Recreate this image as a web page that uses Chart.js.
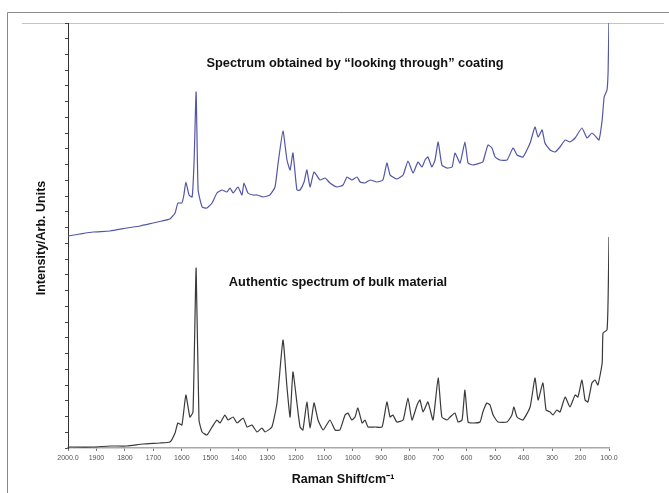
<!DOCTYPE html>
<html>
<head>
<meta charset="utf-8">
<script src="https://cdn.jsdelivr.net/npm/chart.js@4/dist/chart.umd.min.js"></script>
<style>
html,body{margin:0;padding:0;background:#fff;}
#c{display:block;}
</style>
</head>
<body>
<canvas id="c" width="669" height="493"></canvas>
<script>
// Raman shift (cm-1) and intensity (arb. units)
const coatedShift = [2000,1958,1912,1852,1793,1747,1701,1670,1642,1624,1614,1600,1593,1586,1575,1564,1557,1550,1543,1529,1512,1494,1477,1459,1442,1431,1420,1403,1389,1382,1368,1350,1336,1315,1291,1273,1262,1245,1231,1220,1210,1196,1185,1171,1161,1150,1136,1115,1097,1080,1055,1034,1020,1003,985,974,957,939,915,894,880,869,859,845,823,806,788,771,757,746,736,722,711,700,687,669,651,641,623,606,595,578,553,543,525,511,500,483,458,437,423,402,377,360,349,335,325,307,290,272,254,237,219,195,177,160,142,135,124,117,107,103,100];
const coatedIntensity = [212,214,216,217,220,222,225,227,229,235,245,245,253,266,253,251,288,356,258,241,240,245,255,258,256,260,255,261,253,265,255,253,253,251,253,261,285,317,288,278,295,258,258,266,278,261,276,268,270,265,261,263,271,268,271,266,265,268,266,268,285,273,271,269,273,287,275,286,281,288,291,281,288,306,283,280,281,295,285,306,285,283,285,286,303,300,291,288,288,300,293,291,305,321,311,318,305,298,296,301,308,306,310,320,310,315,310,308,328,351,358,378,432];

const bulkShift = [2000,1912,1852,1793,1737,1677,1642,1624,1614,1600,1586,1572,1561,1550,1540,1529,1512,1494,1477,1466,1449,1438,1420,1406,1385,1371,1354,1336,1319,1308,1284,1266,1245,1231,1220,1210,1196,1185,1175,1161,1150,1136,1122,1104,1080,1062,1045,1027,1017,1003,992,982,967,957,946,922,897,880,869,859,845,823,806,792,774,764,753,736,718,700,687,669,658,641,630,616,606,595,578,553,543,529,518,507,490,458,441,434,423,402,377,360,349,332,321,307,297,283,272,254,237,219,209,195,184,174,160,149,139,124,121,107,103,100];
const bulkIntensity = [1,1,2,2,4,5,6,15,25,23,53,31,36,180,28,16,13,21,28,25,33,28,31,25,30,21,23,16,20,16,21,45,108,61,31,76,45,21,18,46,20,45,28,18,28,18,18,33,35,28,31,40,25,28,21,21,21,46,31,33,26,28,50,28,43,48,36,46,28,70,31,28,31,35,26,28,58,26,25,26,36,45,43,33,26,26,33,41,31,28,41,70,48,65,38,36,33,38,36,51,41,53,51,68,48,46,65,68,63,85,115,118,151,211];

const tickValues = [2000,1900,1800,1700,1600,1500,1400,1300,1200,1100,1000,900,800,700,600,500,400,300,200,100];
const tickLabels = ["2000.0","1900","1800","1700","1600","1500","1400","1300","1200","1100","1000","900","800","700","600","500","400","300","200","100.0"];

const topLabel = "Spectrum obtained by \u201Clooking through\u201D coating";
const bottomLabel = "Authentic spectrum of bulk material";
const yTitle = "Intensity/Arb. Units";
const xTitle = "Raman Shift/cm\u207B\u00B9";

const toXY = (xs, ys) => xs.map((x, i) => ({x: x, y: ys[i]}));

const decor = {
  id: 'decor',
  beforeDraw(chart) {
    const ctx = chart.ctx;
    ctx.save();
    ctx.fillStyle = '#fff';
    ctx.fillRect(0, 0, chart.width, chart.height);
    ctx.strokeStyle = '#8a8a8a';
    ctx.lineWidth = 1;
    ctx.beginPath();
    ctx.moveTo(7.5, 500);
    ctx.lineTo(7.5, 12.5);
    ctx.lineTo(669, 12.5);
    ctx.stroke();
    ctx.strokeStyle = '#c4c4c4';
    ctx.beginPath();
    ctx.moveTo(22, 23.5);
    ctx.lineTo(664, 23.5);
    ctx.stroke();
    ctx.restore();
  },
  afterDraw(chart) {
    const ctx = chart.ctx;
    ctx.save();
    ctx.fillStyle = '#111';
    ctx.textAlign = 'center';
    ctx.textBaseline = 'middle';
    ctx.font = 'bold 12.8px "Liberation Sans", Arial, sans-serif';
    ctx.fillText(topLabel, 355, 63);
    ctx.fillText(bottomLabel, 338, 282);
    ctx.font = 'bold 12.5px "Liberation Sans", Arial, sans-serif';
    ctx.fillText(xTitle, 343, 480);
    ctx.translate(42, 238);
    ctx.rotate(-Math.PI / 2);
    ctx.fillText(yTitle, 0, 0);
    ctx.restore();
  }
};

new Chart(document.getElementById('c'), {
  type: 'line',
  data: {
    datasets: [
      {
        label: 'coated',
        data: toXY(coatedShift, coatedIntensity),
        borderColor: '#5256a6',
        borderWidth: 1.2,
        pointRadius: 0,
        tension: 0.15,
        fill: false
      },
      {
        label: 'bulk',
        data: toXY(bulkShift, bulkIntensity),
        borderColor: '#3a3a3a',
        borderWidth: 1.2,
        pointRadius: 0,
        tension: 0.15,
        fill: false
      }
    ]
  },
  options: {
    responsive: false,
    animation: false,
    events: [],
    layout: {padding: {left: 0, right: 60, top: 23, bottom: 0}},
    plugins: {legend: {display: false}, tooltip: {enabled: false}},
    scales: {
      x: {
        type: 'linear',
        reverse: true,
        min: 100,
        max: 2000,
        afterBuildTicks: (s) => { s.ticks = tickValues.map(v => ({value: v})); },
        afterFit: (s) => { s.height = 45; },
        border: {display: true, color: '#a8a8a8', width: 1.5},
        grid: {drawOnChartArea: false, drawTicks: true, tickLength: 3, color: '#777'},
        ticks: {
          autoSkip: false,
          maxRotation: 0,
          padding: 3,
          color: '#555',
          font: {family: '"Liberation Sans", Arial, sans-serif', size: 7},
          callback: (v) => { const i = tickValues.indexOf(v); return i >= 0 ? tickLabels[i] : ''; }
        }
      },
      y: {
        type: 'linear',
        min: 0,
        max: 425,
        afterBuildTicks: (s) => { const t = []; for (let i = 0; i <= 27; i++) t.push({value: i * 425 / 27}); s.ticks = t; },
        afterFit: (s) => { s.width = 68; },
        border: {display: true, color: '#333', width: 1},
        grid: {drawOnChartArea: false, drawTicks: true, tickLength: 3, color: '#444'},
        ticks: {display: false}
      }
    }
  },
  plugins: [decor]
});
</script>
</body>
</html>
